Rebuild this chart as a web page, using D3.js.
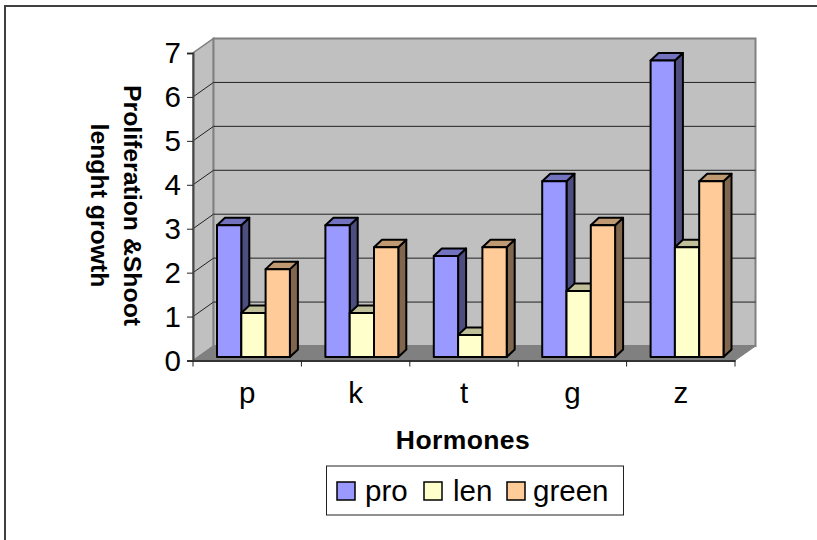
<!DOCTYPE html>
<html>
<head>
<meta charset="utf-8">
<script src="https://d3js.org/d3.v7.min.js"></script>
<style>
  html, body { margin: 0; padding: 0; background: #fff; }
  svg { display: block; }
  text { font-family: "Liberation Sans", Arial, sans-serif; fill: #000; }
</style>
</head>
<body>
<svg id="chart" width="817" height="540"></svg>
<script>
const categories = ['p', 'k', 't', 'g', 'z'];
const seriesNames = ['pro', 'len', 'green'];
const pro = [3, 3, 2.3, 4, 6.75];
const len = [1, 1, 0.5, 1.5, 2.5];
const green = [2, 2.5, 2.5, 3, 4];
const yTicks = [0, 1, 2, 3, 4, 5, 6, 7];

const seriesValues = [pro, len, green];
const faces = [
  { front: '#9999ff', top: '#7272bf', side: '#4d4d80' },
  { front: '#ffffcc', top: '#bfbf99', side: '#808066' },
  { front: '#ffcc99', top: '#bf9972', side: '#80664d' }
];

const svg = d3.select('#chart');

// the frame only shows on the left and top, it runs off the page elsewhere
svg.append('path')
  .attr('d', 'M5,540V6H817')
  .attr('fill', 'none').attr('stroke', '#404040').attr('stroke-width', 2);

// front plane of the 3d box, the back wall is this plane moved by depth
const x0 = 193, x1 = 735;
const depth = { x: 20.5, y: -14.5 };
const scaleX = d3.scaleBand().domain(categories).range([x0, x1]);
const scaleY = d3.scaleLinear().domain([0, 7]).range([360.5, 53]);

const pts = p => p.map(d => d.join(',')).join(' ');

// side wall
svg.append('polygon')
  .attr('points', pts([[x0, scaleY(0)], [x0 + depth.x, scaleY(0) + depth.y], [x0 + depth.x, scaleY(7) + depth.y], [x0, scaleY(7)]]))
  .attr('fill', '#c0c0c0').attr('stroke', '#808080').attr('stroke-width', 1.5);

// back wall
svg.append('rect')
  .attr('x', x0 + depth.x).attr('y', scaleY(7) + depth.y)
  .attr('width', x1 - x0).attr('height', scaleY(0) - scaleY(7))
  .attr('fill', '#c0c0c0').attr('stroke', '#808080').attr('stroke-width', 2);

// floor
svg.append('polygon')
  .attr('points', pts([[x0, scaleY(0)], [x1, scaleY(0)], [x1 + depth.x, scaleY(0) + depth.y], [x0 + depth.x, scaleY(0) + depth.y]]))
  .attr('fill', '#808080').attr('stroke', '#808080');

// gridlines, back wall and side wall
const grid = svg.append('g').attr('fill', 'none').attr('stroke', '#222').attr('stroke-width', 1);
yTicks.filter(d => d > 0 && d < 7).forEach(d => {
  grid.append('path')
    .attr('d', d3.line()([[x0, scaleY(d)], [x0 + depth.x, scaleY(d) + depth.y], [x1 + depth.x, scaleY(d) + depth.y]]));
});

// bars
const barW = 24.3;
const barDepth = { x: 8, y: -7.5 };
const barsStart = 24;
const baseY = scaleY(0) - 3.5;
const unit = scaleY(0) - scaleY(1);
const barLayer = svg.append('g').attr('stroke', '#000').attr('stroke-width', 2).attr('stroke-linejoin', 'round');

categories.forEach((c, i) => {
  seriesValues.forEach((vals, s) => {
    const bx = scaleX(c) + barsStart + s * barW;
    const top = baseY - vals[i] * unit;
    const g = barLayer.append('g');
    g.append('polygon')
      .attr('points', pts([[bx + barW, top], [bx + barW + barDepth.x, top + barDepth.y], [bx + barW + barDepth.x, baseY + barDepth.y], [bx + barW, baseY]]))
      .attr('fill', faces[s].side);
    g.append('polygon')
      .attr('points', pts([[bx, top], [bx + barDepth.x, top + barDepth.y], [bx + barW + barDepth.x, top + barDepth.y], [bx + barW, top]]))
      .attr('fill', faces[s].top);
    g.append('rect')
      .attr('x', bx).attr('y', top)
      .attr('width', barW).attr('height', baseY - top)
      .attr('fill', faces[s].front);
  });
});

// axes
const axisY = d3.axisLeft(scaleY).tickValues(yTicks).tickFormat(d3.format('d')).tickSize(6).tickPadding(6);
const gy = svg.append('g').attr('transform', `translate(${x0},0)`).call(axisY);
gy.selectAll('text').style('font-size', '29.5px').attr('y', 0.5);
gy.selectAll('line').attr('stroke', '#222');
gy.select('.domain').attr('stroke', '#444').attr('stroke-width', 2);

const axisX = d3.axisBottom(scaleX).tickSize(0).tickPadding(22);
const gx = svg.append('g').attr('transform', `translate(0,${scaleY(0)})`).call(axisX);
gx.selectAll('text').style('font-size', '29.5px');
gx.select('.domain').attr('stroke', '#333').attr('stroke-width', 2);

// ticks between the categories
svg.append('g').selectAll('line')
  .data(d3.range(categories.length + 1))
  .join('line')
  .attr('x1', d => x0 + d * scaleX.step())
  .attr('x2', d => x0 + d * scaleX.step())
  .attr('y1', scaleY(0)).attr('y2', scaleY(0) + 6)
  .attr('stroke', '#222');

// axis titles
svg.append('text')
  .attr('x', 463).attr('y', 449)
  .attr('text-anchor', 'middle')
  .attr('font-weight', 'bold').attr('font-size', 26.5)
  .attr('letter-spacing', 0.4)
  .text('Hormones');

const yTitle = svg.append('text')
  .attr('transform', 'translate(124,205.5) rotate(90)')
  .attr('text-anchor', 'middle')
  .attr('font-weight', 'bold').attr('font-size', 24.8);
yTitle.append('tspan').attr('x', 0).attr('y', 0).text('Proliferation &Shoot');
yTitle.append('tspan').attr('x', 0).attr('y', 33).text('lenght growth');

// legend
svg.append('rect')
  .attr('x', 326.5).attr('y', 466)
  .attr('width', 297).attr('height', 49)
  .attr('fill', '#fff').attr('stroke', '#222').attr('stroke-width', 1);

const legendSwatchX = [337, 424, 507];
const legendTextX = [365, 453, 533];
const legend = svg.append('g');
seriesNames.forEach((name, i) => {
  legend.append('rect')
    .attr('x', legendSwatchX[i]).attr('y', 482)
    .attr('width', 18).attr('height', 18)
    .attr('fill', faces[i].front).attr('stroke', '#000').attr('stroke-width', 1.5);
  legend.append('text')
    .attr('x', legendTextX[i]).attr('y', 501)
    .attr('font-size', 29.5)
    .text(name);
});
</script>
</body>
</html>
